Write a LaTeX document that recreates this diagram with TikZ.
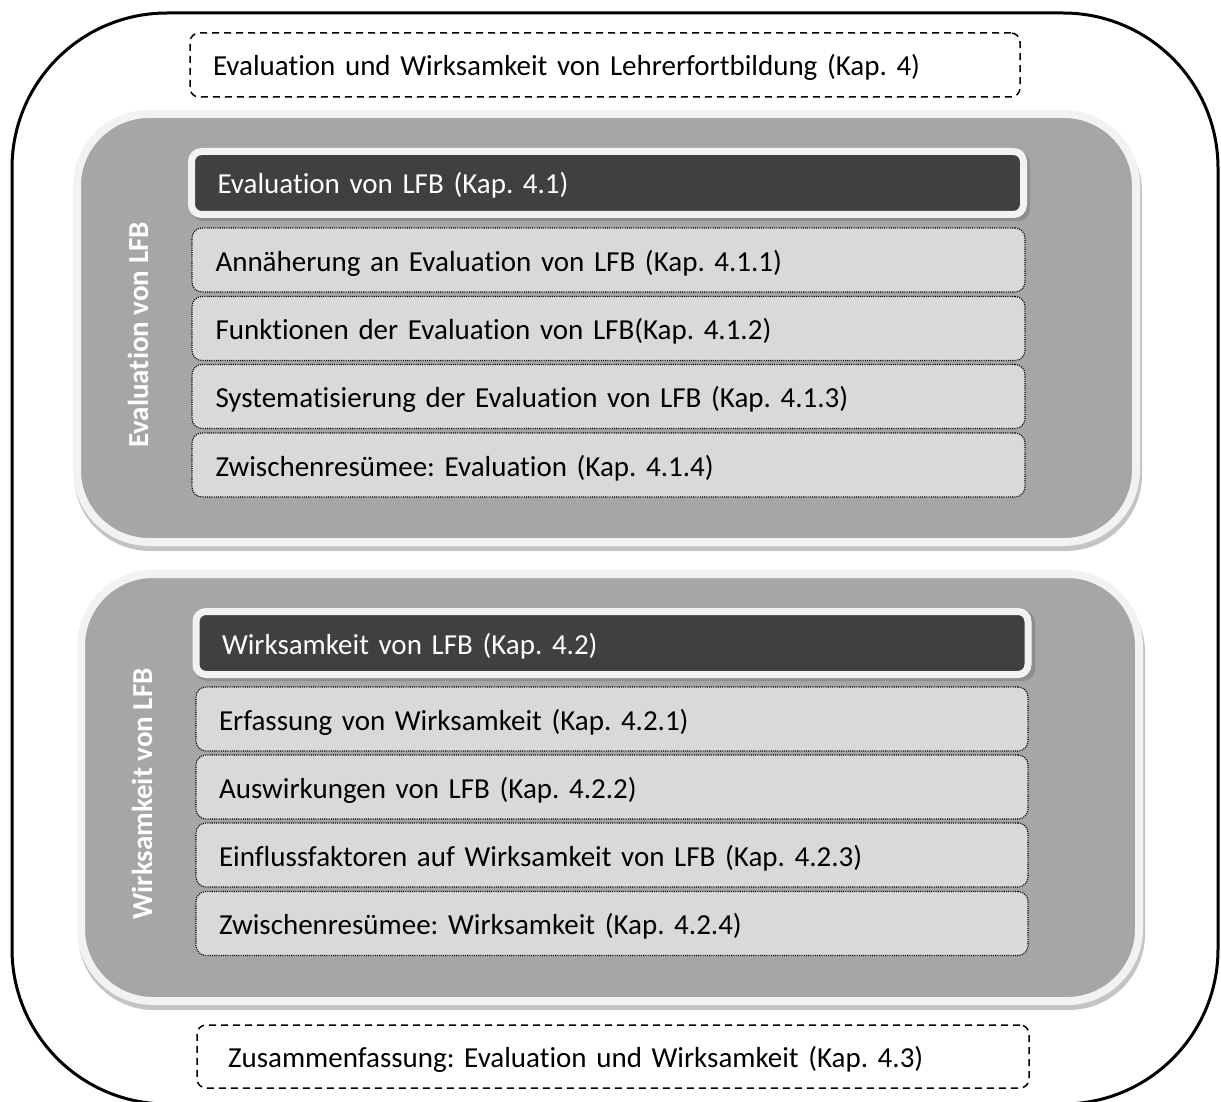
\documentclass[tikz,border=0pt]{standalone}
\usepackage{fontspec}
\setmainfont{Carlito}[Ligatures=NoCommon]
\usetikzlibrary{calc}
\frenchspacing
\definecolor{panelgray}{HTML}{A6A6A6}
\definecolor{rimgray}{HTML}{F2F2F2}
\definecolor{panelshadow}{HTML}{C4C4C4}
\definecolor{headdark}{HTML}{404040}
\definecolor{headshadow}{HTML}{8E8E8E}
\definecolor{subfill}{HTML}{D9D9D9}
\tikzset{
  basefont/.style={font=\fontsize{29}{34}\selectfont\frenchspacing},
  panelbox/.style={draw=rimgray, line width=8pt, fill=panelgray, rounded corners=72pt, inner sep=0pt},
  headbox/.style={draw=rimgray, line width=7pt, fill=headdark, rounded corners=10pt, basefont, text=white,
     minimum height=63pt, text width=780pt, inner xsep=26pt, align=left, text height=24pt, text depth=2pt},
  subbox/.style={draw=black, line width=1.1pt, dash pattern=on 1.1pt off 1.1pt, fill=subfill, rounded corners=10pt, basefont,
     minimum height=64pt, text width=786pt, inner xsep=23pt, align=left, text height=24pt, text depth=2pt},
  framebox/.style={draw=black, line width=1.5pt, dash pattern=on 7pt off 5pt, rounded corners=9pt, basefont,
     text height=24pt, text depth=2pt, align=left},
  sidelabel/.style={font=\fontsize{29}{34}\selectfont\bfseries, text=white, rotate=90}
}
\begin{document}
\begin{tikzpicture}[x=1pt,y=-1pt]
\useasboundingbox (0,0) rectangle (1221,1102);
\begin{scope}
\clip (0,0) rectangle (1221,1102);
\draw[line width=3pt, rounded corners=155pt] (12,13) rectangle (1218,1104);
\end{scope}

% top / bottom dashed boxes
\node[framebox, minimum width=830pt, minimum height=64pt, text width=784pt, inner xsep=23pt] (top) at (605,65)
  {Evaluation und Wirksamkeit von Lehrerfortbildung (Kap. 4)};
\node[framebox, minimum width=832pt, minimum height=63pt, text width=770pt, inner xsep=31pt] (bottom) at (613,1056.5)
  {Zusammenfassung: Evaluation und Wirksamkeit (Kap. 4.3)};

% panel shadows
\fill[panelshadow, rounded corners=76pt] (74,116) rectangle (1142,551);
\fill[panelshadow, rounded corners=76pt] (78,576) rectangle (1145,1010);

% panels
\node[panelbox, minimum width=1059pt, minimum height=428pt] (p1) at (606.5,328) {};
\node[panelbox, minimum width=1058pt, minimum height=427pt] (p2) at (610,787.5) {};

\node[sidelabel] (l1) at (138,335) {Evaluation von LFB};
\node[sidelabel] (l2) at (142,794) {Wirksamkeit von LFB};

% header shadows
\fill[headshadow, rounded corners=12pt] (191,151) rectangle (1030,221);
\fill[headshadow, rounded corners=12pt] (195,610) rectangle (1035,681);

% headers
\node[headbox, minimum width=832pt] (h1) at (607.5,183) {Evaluation von LFB (Kap. 4.1)};
\node[headbox, minimum width=832pt] (h2) at (612,643) {Wirksamkeit von LFB (Kap. 4.2)};

% sub boxes panel 1
\node[subbox, minimum width=833pt] (a1) at (608.5,260) {Annäherung an Evaluation von LFB (Kap. 4.1.1)};
\node[subbox, minimum width=833pt] (a2) at (608.5,328.5) {Funktionen der Evaluation von LFB(Kap. 4.1.2)};
\node[subbox, minimum width=833pt] (a3) at (608.5,396.5) {Systematisierung der Evaluation von LFB (Kap. 4.1.3)};
\node[subbox, minimum width=833pt] (a4) at (608.5,465) {Zwischenresümee: Evaluation (Kap. 4.1.4)};

% sub boxes panel 2
\node[subbox, minimum width=832pt] (b1) at (612,719) {Erfassung von Wirksamkeit (Kap. 4.2.1)};
\node[subbox, minimum width=832pt] (b2) at (612,787) {Auswirkungen von LFB (Kap. 4.2.2)};
\node[subbox, minimum width=832pt] (b3) at (612,855) {Einflussfaktoren auf Wirksamkeit von LFB (Kap. 4.2.3)};
\node[subbox, minimum width=832pt] (b4) at (612,923.5) {Zwischenresümee: Wirksamkeit (Kap. 4.2.4)};
\end{tikzpicture}
\end{document}
